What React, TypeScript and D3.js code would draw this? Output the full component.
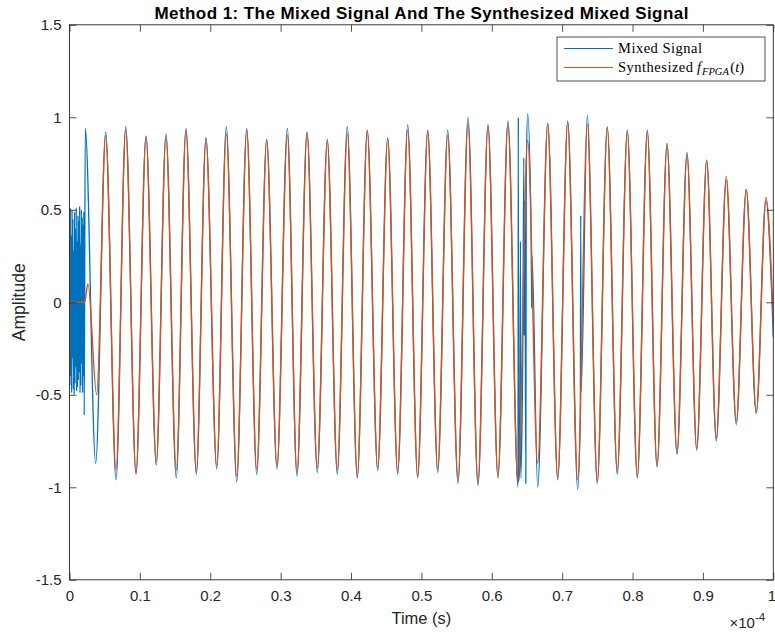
import React, { useEffect, useRef } from 'react';
import * as d3 from 'd3';

const WIDTH = 775;
const HEIGHT = 635;
const MARGIN = { top: 24.8, right: 1.7, bottom: 55.2, left: 69.5 };
const GRAPH_WIDTH = WIDTH - MARGIN.left - MARGIN.right;
const GRAPH_HEIGHT = HEIGHT - MARGIN.top - MARGIN.bottom;

const AXIS_COLOR = '#262626';
const BLUE = '#0072BD';
const ORANGE = '#D95319';

// time in units of 1e-4 s
const X_TICKS = [0, 0.1, 0.2, 0.3, 0.4, 0.5, 0.6, 0.7, 0.8, 0.9, 1];
const Y_TICKS = [-1.5, -1, -0.5, 0, 0.5, 1, 1.5];

// synthesized signal, turning points
const synthTime = [
  0, 0.0213, 0.0263, 0.0386,
  0.0514, 0.0661, 0.0799, 0.0945, 0.1087, 0.1233, 0.1371, 0.1517, 0.1655, 0.1802,
  0.1939, 0.2092, 0.2228, 0.2376, 0.2518, 0.2660, 0.2802, 0.2948, 0.3095, 0.3232,
  0.3375, 0.3521, 0.3663, 0.3805, 0.3947, 0.4089, 0.4231, 0.4379, 0.4521, 0.4663,
  0.4805, 0.4947, 0.5090, 0.5232, 0.5374, 0.5520, 0.5662, 0.5804, 0.5946, 0.6088,
  0.6230, 0.6373, 0.6510, 0.6652, 0.6795, 0.6937, 0.7079, 0.7221, 0.7357, 0.7499,
  0.7641, 0.7783, 0.7926, 0.8068, 0.8210, 0.8348, 0.8490, 0.8632, 0.8774, 0.8912,
  0.9054, 0.9190, 0.9332, 0.9474, 0.9616, 0.9758, 0.9896, 1.0,
];
const synthAmp = [
  0, 0, 0.10, -0.50,
  0.90, -0.905, 0.934, -0.923, 0.894, -0.86, 0.894, -0.905, 0.93, -0.914,
  0.885, -0.887, 0.912, -0.94, 0.93, -0.905, 0.876, -0.887, 0.903, -0.923,
  0.915, -0.896, 0.872, -0.905, 0.912, -0.94, 0.926, -0.896, 0.885, -0.914,
  0.93, -0.94, 0.926, -0.905, 0.903, -0.96, 0.966, -0.977, 0.957, -0.94,
  0.966, -0.977, 0.876, -0.87, 0.966, -0.95, 0.975, -0.96, 0.966, -0.968,
  0.944, -0.914, 0.92, -0.94, 0.92, -0.887, 0.849, -0.815, 0.795, -0.788,
  0.764, -0.734, 0.682, -0.644, 0.61, -0.596, 0.567, -0.11,
];

// mixed signal: noisy start, then the carrier with a couple of glitches
const mixedTime = [
  0, 0.0006, 0.0012, 0.0018, 0.0024, 0.0030, 0.0036, 0.0042, 0.0048, 0.0054, 0.0060, 0.0066,
  0.0072, 0.0078, 0.0084, 0.0090, 0.0096, 0.0102, 0.0108, 0.0114, 0.0120, 0.0126, 0.0132, 0.0138,
  0.0144, 0.0150, 0.0156, 0.0162, 0.0168, 0.0174, 0.0180, 0.0186, 0.0192, 0.0198, 0.0204, 0.0209,
  0.0224, 0.0372,
  0.0514, 0.0661, 0.0799, 0.0945, 0.1087, 0.1233, 0.1371, 0.1517, 0.1655, 0.1802,
  0.1939, 0.2092, 0.2228, 0.2376, 0.2518, 0.2660, 0.2802, 0.2948, 0.3095, 0.3232,
  0.3375, 0.3521, 0.3663, 0.3805, 0.3947, 0.4089, 0.4231, 0.4379, 0.4521, 0.4663,
  0.4805, 0.4947, 0.5090, 0.5232, 0.5374, 0.5520, 0.5662, 0.5804, 0.5946, 0.6088,
  0.6230, 0.6373,
  0.6377, 0.6381, 0.6395, 0.6408, 0.6412, 0.6440, 0.6455, 0.6460, 0.6470, 0.6484, 0.6490,
  0.6510,
  0.6560, 0.6567, 0.6572,
  0.6652, 0.6795, 0.6937, 0.7079, 0.7221,
  0.7258, 0.7264, 0.7269,
  0.7357, 0.7499, 0.7641, 0.7783, 0.7926, 0.8068, 0.8210, 0.8348, 0.8490, 0.8632,
  0.8774, 0.8912, 0.9054, 0.9190, 0.9332, 0.9474, 0.9616, 0.9758, 0.9896, 1.0,
];
const mixedAmp = [
  0.48, -0.45, 0.51, -0.40, 0.36, -0.49, 0.50, -0.30, 0.45, -0.47, 0.28, -0.50,
  0.49, -0.44, 0.40, -0.35, 0.51, -0.48, 0.33, -0.46, 0.47, -0.42, 0.44, -0.38,
  0.52, -0.49, 0.31, -0.45, 0.50, -0.33, 0.46, -0.49, 0.42, -0.40, 0.49, -0.61,
  0.94, -0.87,
  0.92, -0.96, 0.95, -0.93, 0.90, -0.88, 0.91, -0.95, 0.94, -0.93,
  0.89, -0.90, 0.95, -0.97, 0.94, -0.93, 0.88, -0.90, 0.94, -0.94,
  0.92, -0.92, 0.88, -0.93, 0.95, -0.95, 0.93, -0.91, 0.89, -0.93,
  0.96, -0.95, 0.93, -0.92, 0.93, -0.98, 1.00, -0.99, 0.96, -0.95,
  0.98, -1.00,
  1.00, -0.97, -0.90, 0.33, -0.95, -0.30, 0.78, -0.18, 0.55, -0.98, 0.70,
  1.02,
  0.35, -0.03, 0.25,
  -1.00, 0.97, -0.96, 0.98, -1.01,
  -0.60, 0.47, -0.48,
  1.01, -0.98, 0.95, -0.93, 0.93, -0.95, 0.93, -0.89, 0.86, -0.82,
  0.81, -0.80, 0.77, -0.75, 0.66, -0.66, 0.61, -0.60, 0.55, -0.19,
];

const App = () => {
  const ref = useRef<SVGSVGElement>(null);

  useEffect(() => {
    const svg = d3.select(ref.current);
    svg.selectAll('*').remove();

    const x = d3.scaleLinear().domain([0, 1]).range([0, GRAPH_WIDTH]);
    const y = d3.scaleLinear().domain([-1.5, 1.5]).range([GRAPH_HEIGHT, 0]);

    svg.append('defs').append('clipPath').attr('id', 'plot-clip')
      .append('rect').attr('width', GRAPH_WIDTH).attr('height', GRAPH_HEIGHT);

    const graph = svg.append('g')
      .attr('transform', `translate(${MARGIN.left}, ${MARGIN.top})`);

    const line = d3.line<[number, number]>()
      .x(d => x(d[0]))
      .y(d => y(d[1]))
      .curve(d3.curveMonotoneX);

    const mixed = mixedTime.map((t, i) => [t, mixedAmp[i]] as [number, number]);
    const synth = synthTime.map((t, i) => [t, synthAmp[i]] as [number, number]);

    const plot = graph.append('g').attr('clip-path', 'url(#plot-clip)');
    plot.append('path').datum(mixed)
      .attr('d', line).attr('fill', 'none')
      .attr('stroke', BLUE).attr('stroke-width', 1.3).attr('stroke-linejoin', 'round');
    plot.append('path').datum(synth)
      .attr('d', line).attr('fill', 'none')
      .attr('stroke', ORANGE).attr('stroke-width', 1.4).attr('stroke-linejoin', 'round');

    // axes, MATLAB style: inward ticks on all four sides
    const sans = '"Liberation Sans", Arial, sans-serif';
    const fmt = (d: d3.NumberValue) => String(d);
    const styleAxis = (g: d3.Selection<SVGGElement, unknown, null, undefined>, labels: boolean) => {
      g.select('.domain').remove();
      g.selectAll('line').attr('stroke', AXIS_COLOR).attr('stroke-width', 0.8);
      g.selectAll('text')
        .attr('fill', labels ? AXIS_COLOR : 'none')
        .attr('font-family', sans)
        .attr('font-size', 15);
    };

    const xAxisGroup = graph.append('g')
      .attr('transform', `translate(0, ${GRAPH_HEIGHT})`)
      .call(d3.axisBottom(x).tickValues(X_TICKS).tickFormat(fmt).tickSize(-7).tickPadding(11))
      .call(g => styleAxis(g, true));
    xAxisGroup.selectAll<SVGTextElement, number>('text')
      .filter(d => d === 1)
      .attr('dx', -2);
    graph.append('g')
      .call(d3.axisTop(x).tickValues(X_TICKS).tickFormat(() => '').tickSize(-7))
      .call(g => styleAxis(g, false));
    graph.append('g')
      .call(d3.axisLeft(y).tickValues(Y_TICKS).tickFormat(fmt).tickSize(-7).tickPadding(8))
      .call(g => styleAxis(g, true));
    graph.append('g')
      .attr('transform', `translate(${GRAPH_WIDTH}, 0)`)
      .call(d3.axisRight(y).tickValues(Y_TICKS).tickFormat(() => '').tickSize(-7))
      .call(g => styleAxis(g, false));

    graph.append('rect')
      .attr('width', GRAPH_WIDTH).attr('height', GRAPH_HEIGHT)
      .attr('fill', 'none').attr('stroke', AXIS_COLOR).attr('stroke-width', 0.9);

    // legend
    const legend = graph.append('g').attr('transform', `translate(${557 - MARGIN.left}, ${37 - MARGIN.top})`);
    legend.append('rect')
      .attr('width', 208).attr('height', 44)
      .attr('fill', '#fff').attr('stroke', AXIS_COLOR).attr('stroke-width', 0.8);
    const items = [
      { color: BLUE, y: 11.5 },
      { color: ORANGE, y: 30.5 },
    ];
    items.forEach(it => {
      legend.append('line')
        .attr('x1', 7).attr('x2', 56).attr('y1', it.y).attr('y2', it.y)
        .attr('stroke', it.color).attr('stroke-width', 1.2);
    });
    const serif = '"Liberation Serif", "Times New Roman", serif';
    legend.append('text')
      .attr('x', 61).attr('y', 16)
      .attr('font-family', serif).attr('font-size', 14.5).attr('fill', '#000')
      .attr('textLength', 84).attr('lengthAdjust', 'spacing')
      .text('Mixed Signal');
    const t2 = legend.append('text')
      .attr('x', 61).attr('y', 35)
      .attr('font-family', serif).attr('font-size', 14.5).attr('fill', '#000');
    t2.append('tspan').attr('textLength', 75).attr('lengthAdjust', 'spacing').text('Synthesized');
    t2.append('tspan').attr('x', 140).attr('font-style', 'italic').text('f');
    t2.append('tspan').attr('font-style', 'italic').attr('font-size', 10.5).attr('dy', 3).attr('dx', 1).text('FPGA');
    t2.append('tspan').attr('dy', -3).attr('dx', 1.5).text('(');
    t2.append('tspan').attr('font-style', 'italic').text('t');
    t2.append('tspan').text(')');

    // titles
    svg.append('text')
      .attr('x', MARGIN.left + GRAPH_WIDTH / 2).attr('y', 19.3)
      .attr('text-anchor', 'middle').attr('font-family', sans)
      .attr('font-weight', 'bold').attr('font-size', 17).attr('fill', '#000')
      .attr('textLength', 534).attr('lengthAdjust', 'spacing')
      .text('Method 1: The Mixed Signal And The Synthesized Mixed Signal');
    svg.append('text')
      .attr('x', MARGIN.left + GRAPH_WIDTH / 2).attr('y', 624.3)
      .attr('text-anchor', 'middle').attr('font-family', sans)
      .attr('font-size', 16.5).attr('fill', AXIS_COLOR)
      .text('Time (s)');
    svg.append('text')
      .attr('transform', `translate(25, ${MARGIN.top + GRAPH_HEIGHT / 2}) rotate(-90)`)
      .attr('text-anchor', 'middle').attr('font-family', sans)
      .attr('font-size', 17.5).attr('fill', AXIS_COLOR)
      .text('Amplitude');
    const exp = svg.append('text')
      .attr('x', 729.5).attr('y', 628.3)
      .attr('font-family', sans).attr('font-size', 15).attr('fill', AXIS_COLOR);
    exp.append('tspan').text('\u00d710');
    exp.append('tspan').attr('font-size', 11.5).attr('dy', -7.5).text('-4');
  }, []);

  return (
    <svg
      ref={ref}
      width={WIDTH}
      height={HEIGHT}
      style={{ position: 'absolute', left: 0, top: 0, background: '#fff' }}
      xmlns="http://www.w3.org/2000/svg"
    />
  );
};

export default App;
